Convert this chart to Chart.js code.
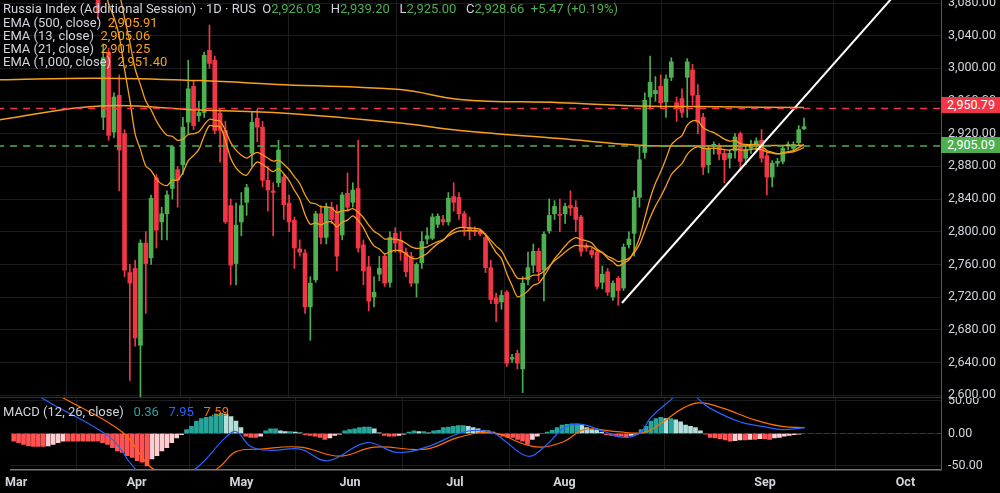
<!DOCTYPE html>
<html><head><meta charset="utf-8">
<script src="https://cdn.jsdelivr.net/npm/chart.js@4"></script>
<style>
html,body{margin:0;padding:0;background:#000;width:1000px;height:493px;overflow:hidden;font-family:Roboto,"Noto Sans",sans-serif}
#c1{position:absolute;left:0;top:0}
#c2{position:absolute;left:0;top:398px}
.lg{position:absolute;left:3px;font-size:13px;color:#d1d4dc;white-space:nowrap}
.o{color:#f7a11a}.g{color:#4caf50}
.tag{position:absolute;left:941px;width:59px;height:16px;font-size:12.5px;color:#fff;text-align:left;padding-left:6px;box-sizing:border-box;line-height:16px}
</style></head><body>
<canvas id="c1" width="1000" height="398"></canvas>
<canvas id="c2" width="1000" height="95"></canvas>
<div class="lg" style="top:1px">Russia Index (Additional Session) · 1D · RUS &nbsp;O<span class="g">2,926.03</span> &nbsp; H<span class="g">2,939.20</span> &nbsp; L<span class="g">2,925.00</span> &nbsp; C<span class="g">2,928.66</span> &nbsp;<span class="g">+5.47 (+0.19%)</span></div>
<div class="lg" style="top:15px">EMA (500, close) &nbsp;<span class="o">2,905.91</span></div>
<div class="lg" style="top:28px">EMA (13, close) &nbsp;<span class="o">2,905.06</span></div>
<div class="lg" style="top:41px">EMA (21, close) &nbsp;<span class="o">2,901.25</span></div>
<div class="lg" style="top:54px">EMA (1,000, close) &nbsp;<span class="o">2,951.40</span></div>
<div class="lg" style="top:404px">MACD (12, 26, close) &nbsp; <span style="color:#26a69a">0.36</span> &nbsp; <span style="color:#2962ff">7.95</span> &nbsp; <span style="color:#ff6d00">7.59</span></div>
<div class="tag" style="top:97px;background:#f23645">2,950.79</div>
<div class="tag" style="top:137px;background:#4caf50">2,905.09</div>
<script>
// ---- data ----
const opens  = [3085,2940,3020,2922,2967,2920,2750,2755,2661,2786,2768,2866,2812,2822,2853,2876,2882,2934,2978,2942,2946,3022,3010,2945,2924,2832,2761,2812,2836,2896,2939,2928,2863,2850,
 2860,2867,2835,2814,2779,2774,2708,2741,2822,2793,2830,2824,2796,2847,2836,2853,2784,2757,2720,2748,2770,2738,2798,2789,2775,2770,2737,2762,2791,2792,2809,2815,2812,2843,2842,
 2822,2805,2802,2800,2793,2756,2719,2714,2726,2644,2651,2632,2741,2759,2776,2753,2801,2822,2821,2822,2832,2830,2818,2783,2777,2775,2738,2751,2720,2743,2731,2784,2798,2842,2897,
 2965,2969,2978,2959,2989,2958,2963,2989,2998,2967,2940,2882,2905,2905,2896,2890,2899,2920,2890,2902,2905,2912,2893,2867,2884,2886,2905,2902,2909,2926.03];
const closes = [3068,3013,2918,2965,2900,2753,2737,2670,2786,2761,2841,2802,2822,2845,2904,2863,2928,2975,2930,2946,3016,3006,2924,2924,2812,2759,2808,2832,2854,2934,2928,2863,2851,2848,
 2900,2833,2812,2780,2775,2708,2737,2822,2793,2830,2815,2770,2845,2830,2851,2780,2752,2715,2726,2755,2737,2793,2786,2775,2751,2737,2760,2788,2795,2818,2819,2812,2841,2836,2822,
 2805,2802,2800,2797,2756,2717,2712,2722,2639,2646,2639,2737,2756,2776,2751,2797,2820,2831,2820,2831,2829,2815,2776,2780,2772,2733,2748,2726,2737,2728,2781,2791,2842,2888,2961,
 2983,2973,2958,2987,3008,2951,2946,3008,2967,2934,2879,2901,2907,2895,2888,2896,2916,2886,2900,2906,2911,2890,2867,2884,2886,2902,2907,2907,2925,2928.66];
const highs  = [3095,3030,3025,2970,2992,2925,2760,2765,2790,2800,2845,2870,2830,2850,2905,2880,2940,3010,2985,2960,3020,3053,3015,2950,2935,2840,2835,2848,2858,2947,2950,2935,2880,2860,
 2912,2870,2845,2818,2790,2778,2745,2825,2832,2835,2836,2833,2848,2872,2860,2912,2790,2770,2745,2770,2773,2800,2805,2800,2780,2775,2762,2800,2805,2822,2822,2820,2848,2860,2848,
 2825,2818,2806,2803,2798,2765,2725,2728,2728,2650,2655,2745,2775,2785,2780,2800,2840,2838,2840,2835,2850,2838,2820,2786,2780,2778,2758,2755,2740,2745,2785,2800,2850,2905,2970,
 3015,2990,2992,2992,3013,2965,2975,3012,3005,2980,2945,2905,2910,2908,2900,2900,2920,2922,2905,2912,2915,2925,2898,2887,2890,2905,2910,2910,2930,2939.2];
const lows   = [3060,2925,2912,2915,2850,2745,2618,2660,2598,2700,2760,2780,2790,2790,2840,2830,2870,2920,2925,2935,2940,3000,2920,2885,2810,2735,2735,2795,2820,2880,2910,2855,2825,2795,
 2855,2815,2800,2755,2770,2700,2667,2738,2785,2785,2810,2752,2790,2825,2830,2775,2735,2703,2708,2740,2733,2732,2775,2765,2745,2733,2720,2755,2785,2790,2805,2808,2808,2825,2815,
 2795,2790,2795,2795,2750,2712,2690,2705,2635,2640,2632,2603,2735,2750,2740,2715,2798,2815,2800,2810,2820,2800,2770,2776,2768,2730,2730,2722,2716,2710,2728,2780,2770,2830,2890,
 2950,2960,2952,2940,2985,2935,2940,2940,2955,2920,2870,2872,2895,2888,2860,2878,2890,2875,2882,2896,2900,2885,2845,2855,2880,2883,2900,2898,2905,2925];
// EMA seeds (estimated from pre-April history that is off-screen)
const ema13Seed = 3130, ema21Seed = 3170;
// long EMAs: [barIndex, value]
const ema500Pts  = [[-18.5,2937],[0.4,2954],[19.2,2949],[35.2,2945],[56.9,2933],[68.2,2924],[87,2914],[102,2906],[117,2905],[133,2906]];
const ema1000Pts = [[-18.5,2986],[0.4,2988],[19.2,2985],[35.2,2980],[56.9,2974],[68.2,2962],[87,2958],[102,2954],[117,2953],[133,2952]];
const trendPts = [[98.7,2712.7],[155,3126]];
const resistance = 2950.79, support = 2905.09;
const priceTicks = [2600,2640,2680,2720,2760,2800,2840,2880,2920,2960,3000,3040,3080];
const macdTicks = [50,0,-50];
// MACD
const macdHist = [-12,-14,-17,-19,-20,-20,-20,-19,-17,-14,-12,-12,-12,-12,-12,-12,-12,-12,-14,-17,-22,-27,-29,-34,-37,-42,-44,-50,-39,-34,-27,-22,-14,-7,-2,6,11,19,23,25,26,30,31,30,26,19,9,-4,-6,-6,-4,4,7,7,4,3,3,2,1,-2,-3,-4,-6,-9,-7,-3,-1,4,6,7,9,10,10,7,1,-3,-4,-4,-3,-1,2,4,3,3,
 1,4,5,9,10,11,12,12,11,9,7,5,4,2,-2,-4,-6,-6,-9,-12,-17,-9,-4,0,2,5,9,13,14,15,15,14,9,6,5,2,-2,-3,-4,-4,-6,-3,-1,6,11,19,23,25,23,23,21,18,13,11,9,4,-1,-6,-7,-8,-10,-12,-11,-10,-10,-9,-9,-8,-8,-9,-7,-6,-4,-3,-2,-1];
const macdPts = [[0,85],[6.5,51],[19.5,-6],[24.1,-50],[27,-70],[33,-70],[37.5,-50],[42.9,-6],[45,3],[48,-20],[52,-26],[58,-24],[63.5,-42],[71.5,-14],[77.5,-29],[83.5,-21],[91.5,3],[96.9,1.5],[99.5,-12],[104.1,-35],[107.5,-20],[111.5,9],[114.9,14],[119.5,3],[123.5,-6],[126.9,1.5],[128.9,24],[132.9,51],[136,70],[138.9,51],[140.9,39],[146.9,18],[151.5,11],[155.5,6],[160.1,9]];
const signalPts = [[0,95],[10.9,51],[22.1,1.5],[27.5,-50],[31,-62],[39,-62],[41.9,-50],[45,-28],[50,-24],[58,-21],[66,-35],[73,-21],[83.5,-24],[90,-6],[96.9,1.5],[103.5,-17],[107,-21],[111.5,-12],[115.5,6],[122,3],[127.5,1.5],[131.5,18],[135.5,39],[138.9,47],[143.5,39],[150,21],[155.5,11],[160.1,9]];
const monthLabels = ['Mar','Apr','May','Jun','Jul','Aug','Sep','Oct'];
const monthAtMacdBar  = [0.5,24.9,46.1,68.1,89.3,111.5,152.1,180.5];
const monthAtPriceBar = [-17.5,5.5,25.4,46.2,66.1,87,125.2,152];

// ---- derived ----
function ema(arr, seed, n){const a=2/(n+1);let e=seed;return arr.map(v=>(e=e+a*(v-e)));}
const e13 = ema(closes, ema13Seed, 13), e21 = ema(closes, ema21Seed, 21);
const UP='#4caf50', DN='#f23645', GRID='#1c1c1f', TXT='#d1d4dc';
const fmt = v => v.toLocaleString('en-US',{minimumFractionDigits:2,maximumFractionDigits:2});
const yFit = s => { s.width = 59; };
// draws y tick labels without letting Chart.js pad the chart area for them
const yLabels = {id:'yLabels', afterDraw(ch, a, o){const ctx=ch.ctx, s=ch.scales.y;
  ctx.save(); ctx.font='12.5px Roboto'; ctx.fillStyle=TXT; ctx.textBaseline='middle'; ctx.textAlign='left';
  o.ticks.forEach(v=>ctx.fillText(fmt(v), s.left+7, s.getPixelForValue(v)+o.dy)); ctx.restore();}};

new Chart(document.getElementById('c1'), {
  type:'bar',
  plugins:[yLabels],
  data:{datasets:[
    {label:'wick', data:closes.map((c,i)=>({x:i,y:[lows[i],highs[i]]})), barThickness:1, grouped:false,
      backgroundColor:closes.map((c,i)=>c>=opens[i]?UP:DN), order:3},
    {label:'body', data:closes.map((c,i)=>({x:i,y:[opens[i],c]})), barThickness:4, grouped:false, minBarLength:1,
      backgroundColor:closes.map((c,i)=>c>=opens[i]?UP:DN), order:2},
    {type:'line', data:e13.map((v,i)=>({x:i,y:v})), borderColor:'#f7a11a', borderWidth:1.3, pointRadius:0, tension:0.3, order:1},
    {type:'line', data:e21.map((v,i)=>({x:i,y:v})), borderColor:'#f59d1a', borderWidth:1.3, pointRadius:0, tension:0.3, order:1},
    {type:'line', data:ema500Pts.map(p=>({x:p[0],y:p[1]})), borderColor:'#f7a11a', borderWidth:1.5, pointRadius:0, tension:0.4, order:1},
    {type:'line', data:ema1000Pts.map(p=>({x:p[0],y:p[1]})), borderColor:'#f7a11a', borderWidth:1.5, pointRadius:0, tension:0.4, order:1},
    {type:'line', data:[{x:-19,y:resistance},{x:159,y:resistance}], borderColor:'#f23645', borderWidth:1.5, borderDash:[7,6], pointRadius:0, order:0},
    {type:'line', data:[{x:-19,y:support},{x:159,y:support}], borderColor:'#4caf50', borderWidth:1.5, borderDash:[7,6], pointRadius:0, order:0},
    {type:'line', data:trendPts.map(p=>({x:p[0],y:p[1]})), borderColor:'#ffffff', borderWidth:2, pointRadius:0, order:0}
  ]},
  options:{responsive:false, animation:false, maintainAspectRatio:false,
    layout:{padding:0},
    plugins:{legend:{display:false}, tooltip:{enabled:false}, yLabels:{ticks:priceTicks, dy:0}},
    scales:{
      x:{type:'linear', min:-18.46, max:158.8, offset:false,
        afterBuildTicks:s=>{s.ticks=monthAtPriceBar.map(v=>({value:v}));},
        ticks:{display:false}, grid:{color:GRID, drawTicks:false}, border:{display:false}},
      y:{position:'right', min:2596.4, max:3083.7, afterFit:yFit,
        afterBuildTicks:s=>{s.ticks=priceTicks.map(v=>({value:v}));},
        ticks:{display:false},
        grid:{color:GRID, drawTicks:false}, border:{color:'#555', width:1}}
    }}
});

const histColors = macdHist.map((v,i)=>{const p=i?macdHist[i-1]:v;
  return v>=0 ? (v>=p?'#26a69a':'#b2dfdb') : (v<=p?'#ff5252':'#ffcdd2');});
new Chart(document.getElementById('c2'), {
  type:'bar',
  plugins:[yLabels],
  data:{datasets:[
    {data:macdHist.map((v,i)=>({x:i,y:v})), backgroundColor:histColors, barThickness:4, grouped:false, order:2},
    {type:'line', data:[{x:-1,y:0},{x:190,y:0}], borderColor:'#444', borderWidth:1, borderDash:[4,4], pointRadius:0, order:3},
    {type:'line', data:macdPts.map(p=>({x:p[0],y:p[1]})), borderColor:'#2962ff', borderWidth:1.2, pointRadius:0, tension:0.4, order:1},
    {type:'line', data:signalPts.map(p=>({x:p[0],y:p[1]})), borderColor:'#ff6d00', borderWidth:1.2, pointRadius:0, tension:0.4, order:1}
  ]},
  options:{responsive:false, animation:false, maintainAspectRatio:false,
    layout:{padding:0},
    plugins:{legend:{display:false}, tooltip:{enabled:false}, yLabels:{ticks:macdTicks, dy:0}},
    scales:{
      x:{type:'linear', min:-0.5, max:187.7, offset:false, afterFit:s=>{s.height=23;},
        afterBuildTicks:s=>{s.ticks=monthAtMacdBar.map(v=>({value:v}));},
        ticks:{color:TXT, font:{size:12.5, weight:'bold', family:'Roboto'}, maxRotation:0, autoSkip:false, padding:5,
          callback:(v,i)=>monthLabels[i]},
        grid:{color:GRID, drawTicks:false}, border:{color:'#777', width:1.5}},
      y:{position:'right', min:-56.2, max:54.6, afterFit:yFit,
        afterBuildTicks:s=>{s.ticks=macdTicks.map(v=>({value:v}));},
        ticks:{display:false},
        grid:{color:GRID, drawTicks:false}, border:{color:'#555', width:1}}
    }}
});
</script>
<div style="position:absolute;left:0;top:397px;width:941px;height:1px;background:#333"></div>
</body></html>
